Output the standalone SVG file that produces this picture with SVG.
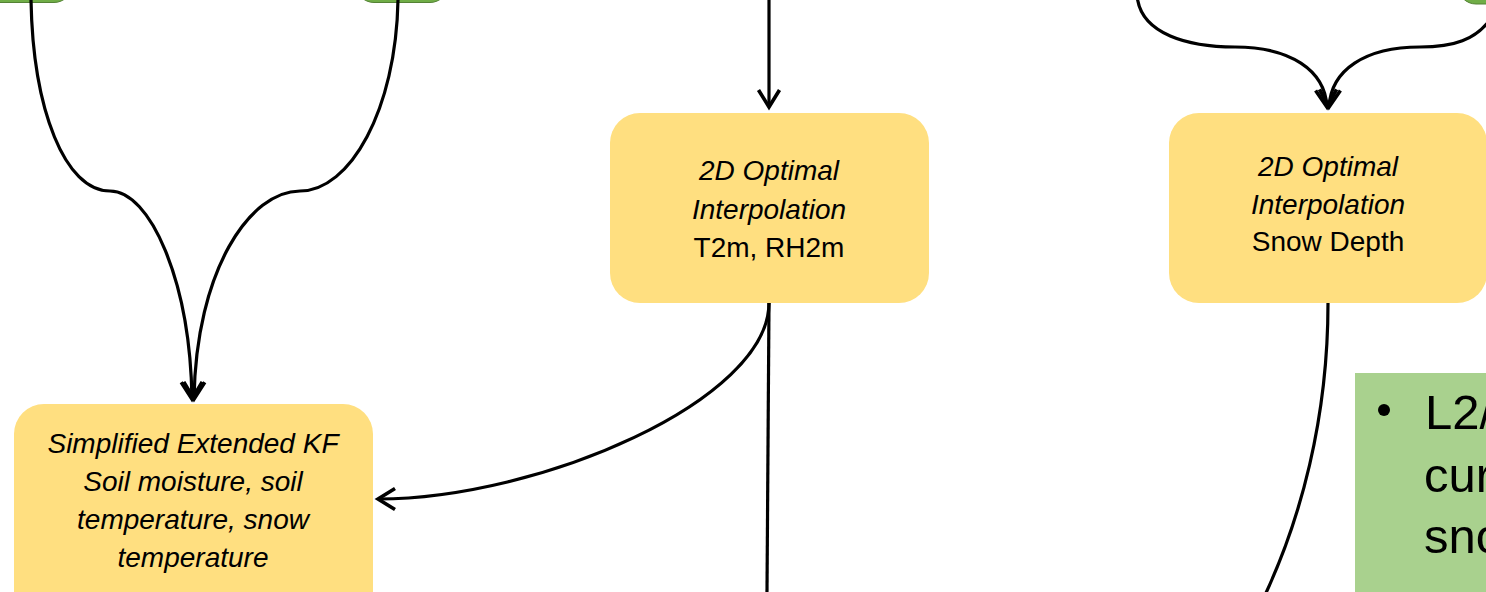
<svg xmlns="http://www.w3.org/2000/svg" width="1486" height="592" viewBox="0 0 1486 592">
  <style>
    .proc { fill: #FFDF80; }
    .src { fill: #70AD47; stroke: #548235; stroke-width: 1; }
    .note { fill: #A9D18E; }
    .lbl { font-family: "Liberation Sans", Arial, sans-serif; font-size: 28px; fill: #000; text-anchor: middle; }
    .it { font-style: italic; }
    .big { font-family: "Liberation Sans", Arial, sans-serif; font-size: 49px; fill: #000; }
    .link { fill: none; stroke: #000; stroke-width: 3.2; }
  </style>
  <defs>
    <marker id="arrow" viewBox="-22 -14 28 28" markerUnits="userSpaceOnUse" markerWidth="28" markerHeight="28" refX="0" refY="0" orient="auto" overflow="visible">
      <path d="M-17,-10.5 L0,0 L-17,10.5" fill="none" stroke="#000" stroke-width="3.6" stroke-linejoin="miter"/>
    </marker>
  </defs>

  <!-- upstream source boxes (only their lower edges are in frame) -->
  <g id="src-a"><rect class="src" x="-20" y="-40" width="92" height="42.5" rx="18"/></g>
  <g id="src-b"><rect class="src" x="356" y="-40" width="92" height="42.5" rx="18"/></g>
  <g id="src-c"><rect class="src" x="1458" y="-40" width="80" height="44" rx="18"/></g>

  <!-- processing steps -->
  <g id="sekf">
    <rect class="proc" x="14" y="404" width="359" height="230" rx="30"/>
    <text class="lbl it" x="193" y="453">Simplified Extended KF</text>
    <text class="lbl it" x="193" y="491">Soil moisture, soil</text>
    <text class="lbl it" x="193" y="529">temperature, snow</text>
    <text class="lbl it" x="193" y="567">temperature</text>
  </g>

  <g id="oi-t2m">
    <rect class="proc" x="610" y="113" width="319" height="190" rx="30"/>
    <text class="lbl it" x="769" y="180">2D Optimal</text>
    <text class="lbl it" x="769" y="219">Interpolation</text>
    <text class="lbl" x="769" y="257">T2m, RH2m</text>
  </g>

  <g id="oi-snow">
    <rect class="proc" x="1169" y="113" width="318" height="190" rx="30"/>
    <text class="lbl it" x="1328" y="176">2D Optimal</text>
    <text class="lbl it" x="1328" y="214">Interpolation</text>
    <text class="lbl" x="1328" y="251">Snow Depth</text>
  </g>

  <!-- side note, running off the right edge -->
  <g id="note">
    <rect class="note" x="1355" y="373" width="200" height="260"/>
    <circle cx="1384" cy="410" r="6" fill="#000"/>
    <text class="big" x="1425" y="429">L2/</text>
    <text class="big" x="1424" y="492">cur</text>
    <text class="big" x="1424" y="553">sno</text>
  </g>

  <!-- connectors -->
  <g id="connectors">
    <path class="link" d="M31,0 C33,110 65,191 110,191 C150,191 190,280 192,399" marker-end="url(#arrow)"/>
    <path class="link" d="M398,0 C396,110 350,191 300,191 C250,191 196,270 194,399" marker-end="url(#arrow)"/>
    <path class="link" d="M769,0 L769,107" marker-end="url(#arrow)"/>
    <path class="link" d="M769,303 C769,400 540,499 378,499" marker-end="url(#arrow)"/>
    <path class="link" d="M769,303 L767,592"/>
    <path class="link" d="M1137,-5 C1140,35 1190,47 1235,47 C1290,47 1325,70 1327,107" marker-end="url(#arrow)"/>
    <path class="link" d="M1495,12 C1478,42 1450,47 1420,47 C1365,47 1331,70 1329,107" marker-end="url(#arrow)"/>
    <path class="link" d="M1328,303 C1328,420 1300,520 1265,595"/>
  </g>
</svg>
